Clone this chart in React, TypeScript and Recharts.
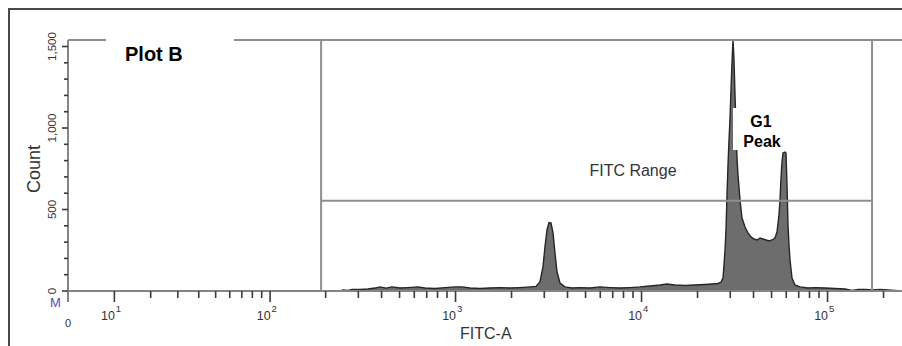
import { ComposedChart, Area, XAxis, YAxis, ReferenceLine } from 'recharts';

const FONT = '"Liberation Sans", Arial, Helvetica, sans-serif';

// FITC-A bin value and event count
const fitc = [
  239, 248, 264, 278, 306, 338, 369, 393, 423, 455, 503, 555, 628, 685, 775, 878, 993, 1083, 1196, 1354,
  1532, 1734, 1962, 2221, 2514, 2707, 2845, 2953, 3027, 3102, 3180, 3260, 3342, 3425, 3511, 3644, 3877,
  4228, 4668, 5283, 5980, 6768, 7660, 8670, 9812, 11106, 12569, 13706, 15133, 17127, 19384, 21939, 23925,
  25769, 26745, 27415, 27757, 28102, 28452, 28807, 29166, 29529, 29897, 30269, 30646, 31028, 31415, 31806,
  32202, 32604, 33009, 33838, 34686, 35998, 37361, 38774, 40242, 41764, 43345, 44985, 46687, 48454, 50287,
  52190, 53498, 54839, 55522, 56214, 56915, 57624, 59068, 59804, 60549, 61303, 62067, 62840, 64415, 66853,
  71122, 78531, 85617, 96926, 109726, 124217, 135461, 145912, 159116, 173516, 191575, 211500, 230660, 261100,
];
const counts = [
  0, 6, 3, 9, 9, 12, 18, 25, 18, 25, 18, 21, 25, 18, 15, 21, 25, 25, 18, 15,
  18, 21, 18, 21, 25, 28, 57, 150, 272, 375, 420, 418, 356, 233, 118, 49, 25,
  18, 21, 18, 25, 21, 18, 21, 25, 31, 37, 43, 37, 34, 37, 40, 43,
  46, 55, 80, 160, 250, 375, 590, 775, 925, 1060, 1235, 1405, 1541, 1418, 1203,
  1020, 817, 712, 559, 448, 393, 356, 332, 319, 313, 325, 319, 313, 307, 313,
  325, 362, 467, 559, 694, 792, 847, 853, 847, 651, 405, 282, 190, 80, 37,
  25, 18, 21, 18, 15, 12, 3, 9, 9, 6, 9, 6, 3, 0,
];

// gate "FITC Range"
const gateLo = 189;
const gateHi = 173500;
const gateCount = 553;

const xMajor = [0, 10, 100, 1000, 10000, 100000];
const xMinor = [
  20, 30, 40, 50, 60, 70, 80, 90,
  200, 300, 400, 500, 600, 700, 800, 900,
  2000, 3000, 4000, 5000, 6000, 7000, 8000, 9000,
  20000, 30000, 40000, 50000, 60000, 70000, 80000, 90000,
  200000,
];
const yTicks = [0, 100, 200, 300, 400, 500, 600, 700, 800, 900, 1000, 1100, 1200, 1300, 1400, 1500];

const X_MAX = 300000;
const Y_MAX = 1540;

// biexponential-like display transform (BD style)
const biex = (v: number) => Math.asinh(v / 16.5) / Math.LN10;

const PX_PER_DECADE = 186;
const PLOT_LEFT = 68;
const plotW = biex(X_MAX) * PX_PER_DECADE;
const chartW = PLOT_LEFT + plotW + 4;

const data = fitc.map((v, i) => ({ pos: biex(v), count: counts[i] }));

const xTickDefs = [
  ...xMajor.map((v) => ({ v, major: true })),
  ...xMinor.map((v) => ({ v, major: false })),
].sort((a, b) => a.v - b.v);

const AXIS = '#858585';
const TICK = '#3a3a3a';
const GATE = '#8e8e8e';
const TXT = '#333';

function XTick(props: any) {
  const { x, y, payload } = props;
  const def = xTickDefs.find((d) => Math.abs(biex(d.v) - payload.value) < 1e-6);
  if (!def) return null;
  if (def.v === 0) {
    return (
      <g>
        <line x1={x} x2={x} y1={y} y2={y + 11} stroke={AXIS} strokeWidth={2} />
        <text x={x} y={y + 36} textAnchor="middle" fontSize={11} fill={TXT} fontFamily={FONT}>0</text>
      </g>
    );
  }
  const exp = Math.round(Math.log10(def.v));
  return (
    <g>
      <line x1={x} x2={x} y1={y} y2={y + (def.major ? 11 : 7)} stroke={TICK} strokeWidth={1.6} />
      {def.major && (
        <text x={x + 0.5} y={y + 29} textAnchor="end" fontSize={12.5} fill={TXT} fontFamily={FONT}>10</text>
      )}
      {def.major && (
        <text x={x + 1.5} y={y + 21.5} fontSize={9.5} fill={TXT} fontFamily={FONT}>{exp}</text>
      )}
    </g>
  );
}

function YTick(props: any) {
  const { x, y, payload } = props;
  const v = payload.value as number;
  const major = v % 500 === 0;
  const lx = x - 12;
  return (
    <g>
      <line x1={x} x2={x - (major ? 6 : 4)} y1={y} y2={y} stroke={TICK} strokeWidth={1.6} />
      {major && (
        <text
          x={lx}
          y={y}
          transform={`rotate(-90 ${lx} ${y})`}
          textAnchor="middle"
          fontSize={11.5}
          fill={TXT}
          fontFamily={FONT}
        >
          {v.toLocaleString('en-US')}
        </text>
      )}
    </g>
  );
}

export default function App() {
  return (
    <div
      style={{
        position: 'fixed',
        left: 0,
        top: 0,
        width: 902,
        height: 346,
        overflow: 'hidden',
        background: '#fff',
        fontFamily: FONT,
      }}
    >
      <ComposedChart
        width={chartW}
        height={346}
        data={data}
        margin={{ top: 40, right: 4, bottom: 10, left: 8 }}
      >
        <XAxis
          dataKey="pos"
          type="number"
          domain={[0, biex(X_MAX)]}
          allowDataOverflow
          ticks={xTickDefs.map((d) => biex(d.v))}
          interval={0}
          height={45}
          tickSize={0}
          tickMargin={0}
          tickLine={false}
          axisLine={{ stroke: AXIS, strokeWidth: 2 }}
          tick={<XTick />}
        />
        <YAxis
          type="number"
          domain={[0, Y_MAX]}
          allowDataOverflow
          ticks={yTicks}
          interval={0}
          width={60}
          tickSize={0}
          tickMargin={0}
          tickLine={false}
          axisLine={{ stroke: AXIS, strokeWidth: 2 }}
          tick={<YTick />}
        />
        <Area
          dataKey="count"
          type="linear"
          stroke="#262626"
          strokeWidth={1.4}
          fill="#6d6d6d"
          fillOpacity={1}
          isAnimationActive={false}
          dot={false}
          activeDot={false}
        />
        <ReferenceLine y={Y_MAX} stroke={GATE} strokeWidth={2} />
        <ReferenceLine x={biex(gateLo)} stroke={GATE} strokeWidth={2} />
        <ReferenceLine x={biex(gateHi)} stroke={GATE} strokeWidth={2} />
        <ReferenceLine
          segment={[
            { x: biex(gateLo), y: gateCount },
            { x: biex(gateHi), y: gateCount },
          ]}
          stroke={GATE}
          strokeWidth={2}
        />
      </ComposedChart>
      <svg
        width={902}
        height={346}
        style={{ position: 'absolute', left: 0, top: 0, pointerEvents: 'none' }}
        fontFamily={FONT}
      >
        <path d="M9 346 V9 H902" fill="none" stroke="#4a4a4a" strokeWidth={2} />
        <rect x={106} y={34} width={128} height={12} fill="#fff" />
        <text x={125} y={60.5} fontSize={20} fontWeight="bold" fill="#000">Plot B</text>
        <rect x={733} y={108} width={55} height={42} fill="#fff" />
        <text x={761} y={126.5} textAnchor="middle" fontSize={16} fontWeight="bold" fill="#000">G1</text>
        <text x={762} y={146.5} textAnchor="middle" fontSize={16} fontWeight="bold" fill="#000">Peak</text>
        <text x={633} y={176} textAnchor="middle" fontSize={16} fill={TXT}>FITC Range</text>
        <text x={40} y={169} transform="rotate(-90 40 169)" textAnchor="middle" fontSize={18} fill={TXT}>Count</text>
        <text x={460} y={339} fontSize={16} fill={TXT}>FITC-A</text>
        <text x={50} y={307} fontSize={13} fill="#5050b0">M</text>
      </svg>
    </div>
  );
}
